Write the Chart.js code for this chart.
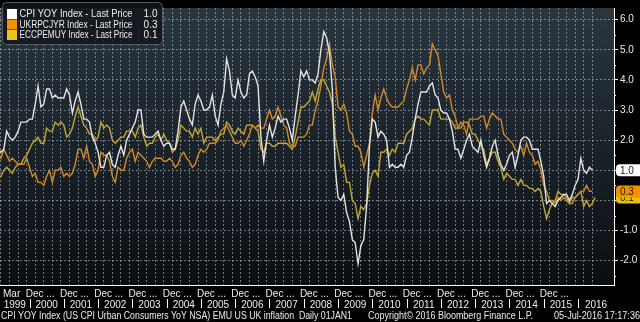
<!DOCTYPE html>
<html><head><meta charset="utf-8">
<script src="https://cdn.jsdelivr.net/npm/chart.js@4.4.0/dist/chart.umd.min.js"></script>
<style>html,body{margin:0;padding:0;background:#000;}#wrap{width:640px;height:322px;position:relative;}</style>
</head><body><div id="wrap"><canvas id="c" width="640" height="322"></canvas></div>
<script>
// Monthly values, first month = Jan 1999
const usCpiYoy = [
 1.7,1.6,1.7,2.3,2.1,2.0,2.1,2.3,2.6,2.6,2.6,2.7,
 2.7,3.2,3.8,3.1,3.2,3.7,3.7,3.4,3.5,3.4,3.4,3.4,
 3.7,3.5,2.9,3.3,3.6,3.2,2.7,2.7,2.6,2.1,1.9,1.6,
 1.1,1.1,1.5,1.6,1.2,1.1,1.5,1.8,1.5,2.0,2.2,2.4,
 2.6,3.0,3.0,2.2,2.1,2.1,2.1,2.2,2.3,2.0,1.8,1.9,
 1.9,1.7,1.7,2.3,3.1,3.3,3.0,2.7,2.5,3.2,3.5,3.3,
 3.0,3.0,3.1,3.5,2.8,2.5,3.2,3.6,4.7,4.3,3.5,3.4,
 4.0,3.6,3.4,3.5,4.2,4.3,4.1,3.8,2.1,1.3,2.0,2.5,
 2.1,2.4,2.8,2.6,2.7,2.7,2.4,2.0,2.8,3.5,4.3,4.1,
 4.3,4.0,4.0,3.9,4.2,5.0,5.6,5.4,4.9,3.7,1.1,0.1,
 0.0,0.2,-0.4,-0.7,-1.3,-1.4,-2.1,-1.5,-1.3,-0.2,1.8,2.7,
 2.6,2.1,2.3,2.2,2.0,1.1,1.2,1.1,1.1,1.2,1.1,1.5,
 1.6,2.1,2.7,3.2,3.6,3.6,3.6,3.8,3.9,3.5,3.4,3.0,
 2.9,2.9,2.7,2.3,1.7,1.7,1.4,1.7,2.0,2.2,1.8,1.7,
 1.6,2.0,1.5,1.1,1.4,1.8,2.0,1.5,1.2,1.0,1.2,1.5,
 1.6,1.1,1.5,2.0,2.1,2.1,2.0,1.7,1.7,1.7,1.3,0.8,
 -0.1,0.0,-0.1,-0.2,0.0,0.1,0.2,0.2,0.0,0.2,0.5,0.7,
 1.4,1.0,0.9,1.1,1.0
];
const ukCpiYoy = [
 1.6,1.4,1.7,1.5,1.3,1.4,1.3,1.2,1.2,1.2,1.4,1.1,
 0.8,0.9,0.6,0.6,0.5,0.8,1.0,0.6,1.0,1.0,1.1,0.8,
 0.9,0.8,0.9,1.2,1.7,1.7,1.4,1.8,1.3,1.2,0.8,1.0,
 1.6,1.5,1.5,1.3,0.8,0.6,1.1,1.0,1.0,1.4,1.6,1.7,
 1.3,1.6,1.5,1.4,1.3,1.1,1.3,1.4,1.4,1.4,1.3,1.3,
 1.4,1.3,1.1,1.2,1.5,1.6,1.4,1.3,1.1,1.2,1.5,1.7,
 1.6,1.7,1.9,1.9,1.9,2.0,2.3,2.4,2.5,2.3,2.1,1.9,
 1.9,2.0,1.8,2.0,2.2,2.5,2.4,2.5,2.4,2.4,2.7,3.0,
 2.7,2.8,3.1,2.8,2.5,2.4,1.9,1.8,1.8,2.1,2.1,2.1,
 2.2,2.5,2.5,3.0,3.3,3.8,4.4,4.7,5.2,4.5,4.1,3.1,
 3.0,3.2,2.9,2.3,2.2,1.8,1.8,1.6,1.1,1.5,1.9,2.9,
 3.5,3.0,3.4,3.7,3.4,3.2,3.1,3.1,3.1,3.2,3.3,3.7,
 4.0,4.4,4.0,4.5,4.5,4.2,4.4,4.5,5.2,5.0,4.8,4.2,
 3.6,3.4,3.5,3.0,2.8,2.4,2.6,2.5,2.2,2.7,2.7,2.7,
 2.7,2.8,2.8,2.4,2.7,2.9,2.8,2.7,2.7,2.2,2.1,2.0,
 1.9,1.7,1.6,1.8,1.5,1.9,1.6,1.5,1.2,1.3,1.0,0.5,
 0.3,0.0,0.0,-0.1,0.1,0.0,0.1,0.0,-0.1,-0.1,0.1,0.2,
 0.3,0.3,0.5,0.3,0.3
];
const ezHicpYoy = [
 0.8,0.8,1.0,1.1,1.0,0.9,1.1,1.2,1.2,1.4,1.5,1.7,
 1.9,2.0,2.1,1.9,1.9,2.4,2.3,2.3,2.6,2.5,2.6,2.5,
 2.1,2.2,2.4,2.8,3.1,2.8,2.5,2.4,2.2,2.2,2.0,2.1,
 2.6,2.4,2.5,2.4,2.0,1.9,2.0,2.1,2.1,2.3,2.3,2.3,
 2.1,2.4,2.5,2.1,1.8,1.9,1.9,2.1,2.2,2.0,2.2,2.0,
 1.9,1.6,1.7,2.0,2.5,2.4,2.3,2.3,2.1,2.4,2.2,2.4,
 1.9,2.1,2.1,2.1,2.0,2.1,2.2,2.2,2.6,2.5,2.3,2.2,
 2.4,2.3,2.2,2.5,2.5,2.5,2.4,2.3,1.7,1.6,1.9,1.9,
 1.8,1.8,1.9,1.9,1.9,1.9,1.8,1.7,2.1,2.6,3.1,3.1,
 3.2,3.3,3.6,3.3,3.7,4.0,4.0,3.8,3.6,3.2,2.1,1.6,
 1.1,1.2,0.6,0.6,0.0,-0.1,-0.6,-0.2,-0.3,-0.1,0.5,0.9,
 1.0,0.8,1.6,1.6,1.7,1.5,1.7,1.6,1.9,1.9,1.9,2.2,
 2.3,2.4,2.7,2.8,2.7,2.7,2.6,2.5,3.0,3.0,3.0,2.7,
 2.7,2.7,2.7,2.6,2.4,2.4,2.4,2.6,2.6,2.5,2.2,2.2,
 2.0,1.8,1.7,1.2,1.4,1.6,1.6,1.3,1.1,0.7,0.9,0.8,
 0.7,0.7,0.5,0.7,0.5,0.5,0.4,0.4,0.3,0.4,0.3,-0.2,
 -0.6,-0.3,-0.1,0.0,0.3,0.2,0.2,0.1,-0.1,0.1,0.1,0.2,
 0.3,-0.2,0.0,-0.2,-0.1,0.1
];
const seriesNames = ['CPI YOY Index - Last Price','UKRPCJYR Index - Last Price','ECCPEMUY Index - Last Price'];
const yearLabels = ['1999','2000','2001','2002','2003','2004','2005','2006','2007','2008','2009','2010','2011','2012','2013','2014','2015','2016'];
const monthLabels = ['Mar','Dec ...','Dec ...','Dec ...','Dec ...','Dec ...','Dec ...','Dec ...','Dec ...','Dec ...','Dec ...','Dec ...','Dec ...','Dec ...','Dec ...','Dec ...','Dec ...'];
const yTickValues = [-2.5,-2,-1.5,-1,-0.5,0,0.5,1,1.5,2,2.5,3,3.5,4,4.5,5,5.5,6];
const footerLeft = 'CPI YOY Index (US CPI Urban Consumers YoY NSA) EMU US UK inflation  Daily 01JAN1';
const footerMid = 'Copyright\u00A9 2016 Bloomberg Finance L.P.';
const footerRight = '05-Jul-2016 17:17:36';

// x axis unit: months since 1 Jan 1999; monthly value k plotted at month end (k+1)
const X_MIN = 1.67, X_MAX = 216.6, Y_MIN = -2.806, Y_MAX = 6.387;
const toPts = arr => arr.map((v,k)=>({x:k+1, y:v}));
const quarterTicks = []; for (let t=2; t<=209; t+=3) quarterTicks.push(t);
const monthTickPos = [2]; for (let t=11; t<=203; t+=12) monthTickPos.push(t);
const yearStarts = []; for (let i=0;i<yearLabels.length;i++) yearStarts.push(i*12);

const lineColors = ['#e2e2e2','#d08a28','#c0a733'];
const swatchColors = ['#ffffff','#f39200','#e8c31c'];
const badgeColors = ['#ffffff','#f39200','#e6c000'];
const FONT = '"Liberation Sans", Arial, sans-serif';

const decor = {
  id:'decor',
  beforeDraw(chart){
    const {ctx, chartArea:a} = chart;
    ctx.save();
    ctx.fillStyle='#000'; ctx.fillRect(0,0,chart.width,chart.height);
    const g = ctx.createLinearGradient(0,a.top,0,a.bottom);
    g.addColorStop(0,'#2a3640'); g.addColorStop(1,'#0a0e12');
    ctx.fillStyle=g; ctx.fillRect(a.left,a.top,a.right-a.left,a.bottom-a.top);
    ctx.restore();
  },
  afterDraw(chart){
    const {ctx, chartArea:a} = chart;
    const xs = chart.scales.x, ys = chart.scales.y;
    ctx.save();
    ctx.strokeStyle='#fff'; ctx.lineWidth=1;
    yTickValues.filter(v=>!Number.isInteger(v)).forEach(v=>{
      const y=Math.round(ys.getPixelForValue(v))+0.5;
      ctx.beginPath(); ctx.moveTo(a.right,y); ctx.lineTo(a.right+2,y); ctx.stroke();
    });
    ctx.fillStyle='#ececec'; ctx.font='10px '+FONT; ctx.textBaseline='alphabetic';
    ctx.textAlign='left';
    monthLabels.forEach((l,i)=>{
      let x = xs.getPixelForValue(monthTickPos[i]) - 1;
      if (i===0) x = 3;
      ctx.fillText(l, x, 297);
    });
    ctx.textAlign='center';
    for (let i=0;i<yearLabels.length;i++){
      const x0 = i===0 ? a.left : xs.getPixelForValue(yearStarts[i]);
      const x1 = i===yearLabels.length-1 ? a.right : xs.getPixelForValue(yearStarts[i+1]);
      ctx.fillText(yearLabels[i], (x0+x1)/2, 307.5);
      if (i>0){ const sx=Math.round(x0)+0.5; ctx.beginPath(); ctx.moveTo(sx,299); ctx.lineTo(sx,308); ctx.stroke(); }
    }
    ctx.textAlign='left';
    ctx.fillText(footerLeft, 1, 318.5, 351);
    ctx.fillText(footerMid, 368, 318.5, 165);
    ctx.textAlign='right';
    ctx.fillText(footerRight, 640, 318.5, 86);
    const series=[usCpiYoy,ukCpiYoy,ezHicpYoy];
    [2,1,0].forEach(i=>{
      const v=series[i][series[i].length-1];
      const y=ys.getPixelForValue(v);
      const x0=616,h=12;
      ctx.fillStyle=badgeColors[i];
      ctx.beginPath();
      ctx.moveTo(x0+4,y-h/2); ctx.lineTo(641,y-h/2); ctx.lineTo(641,y+h/2); ctx.lineTo(x0+4,y+h/2);
      ctx.arcTo(x0,y+h/2,x0,y,4); ctx.arcTo(x0,y-h/2,x0+4,y-h/2,4); ctx.closePath(); ctx.fill();
      ctx.fillStyle='#1a1a1a'; ctx.textAlign='left'; ctx.textBaseline='middle';
      ctx.fillText(v.toFixed(1), 620, y+0.5);
    });
    ctx.textBaseline='middle';
    ctx.fillStyle='rgba(16,21,26,0.85)'; ctx.strokeStyle='#565c63';
    ctx.beginPath(); ctx.roundRect(2.5,2.5,160,42,4); ctx.fill(); ctx.stroke();
    const rows=[14,24.5,35];
    seriesNames.forEach((n,i)=>{
      ctx.fillStyle=swatchColors[i]; ctx.fillRect(7,rows[i]-5,10,10);
      ctx.fillStyle='#ececec'; ctx.textAlign='left';
      ctx.fillText(n, 19.5, rows[i]+0.5, 113);
      const s=series[i]; ctx.textAlign='right';
      ctx.fillText(s[s.length-1].toFixed(1), 157.5, rows[i]+0.5);
    });
    ctx.restore();
  }
};

const gridCol = 'rgba(180,187,195,0.6)';
new Chart(document.getElementById('c'), {
  type:'line',
  data:{datasets:[
    {label:seriesNames[0], data:toPts(usCpiYoy), borderColor:lineColors[0], borderWidth:1.4, pointRadius:0, order:0},
    {label:seriesNames[1], data:toPts(ukCpiYoy), borderColor:lineColors[1], borderWidth:1.4, pointRadius:0, order:1},
    {label:seriesNames[2], data:toPts(ezHicpYoy), borderColor:lineColors[2], borderWidth:1.4, pointRadius:0, order:2}
  ]},
  options:{
    responsive:false, animation:false, events:[],
    layout:{padding:{left:0,right:0,top:0,bottom:37}},
    plugins:{legend:{display:false}, tooltip:{enabled:false}},
    scales:{
      x:{type:'linear', min:X_MIN, max:X_MAX,
        afterBuildTicks:s=>{ s.ticks = quarterTicks.map(v=>({value:v})); },
        ticks:{display:false},
        grid:{color:gridCol, lineWidth:1, drawTicks:false},
        border:{display:true, color:'#ffffff', width:1, dash:[2,2]},
        afterFit:s=>{ s.height=0; }
      },
      y:{position:'right', min:Y_MIN, max:Y_MAX,
        afterBuildTicks:s=>{ s.ticks = yTickValues.map(v=>({value:v})); },
        ticks:{color:'#ececec', font:{family:FONT, size:10}, padding:2,
          callback:v=> (Number.isInteger(v) && v!==0) ? v.toFixed(1) : ''},
        grid:{color:c=> Number.isInteger(c.tick.value) ? gridCol : 'rgba(0,0,0,0)',
              tickColor:c=> Number.isInteger(c.tick.value) ? '#ffffff' : 'rgba(0,0,0,0)',
              tickLength:4, lineWidth:1},
        border:{display:true, color:'#ffffff', width:1, dash:[2,2]},
        afterFit:s=>{ s.width=26; }
      }
    }
  },
  plugins:[decor]
});
</script>
</body></html>
